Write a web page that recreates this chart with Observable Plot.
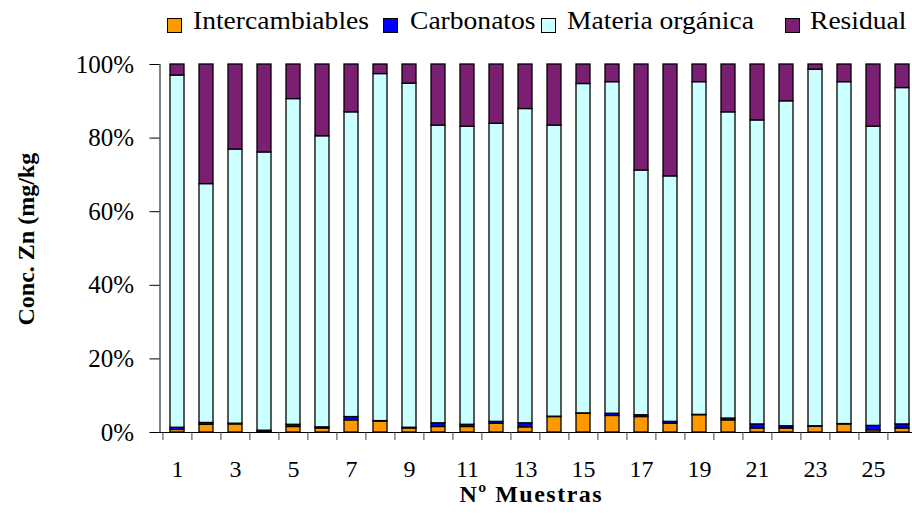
<!DOCTYPE html>
<html>
<head>
<meta charset="utf-8">
<script src="https://cdn.jsdelivr.net/npm/d3@7"></script>
<script src="https://cdn.jsdelivr.net/npm/@observablehq/plot@0.6"></script>
<style>
  body { margin: 0; background: white; }
  #legend { position: relative; width: 912px; height: 40px; font-family: "Liberation Serif", "Times New Roman", serif; font-size: 26px; color: black; }
  .sw { position: absolute; top: 18px; width: 13px; height: 13px; border: 1.5px solid black; }
  .lt { position: absolute; top: 6px; line-height: 30px; transform: scaleX(1.06); transform-origin: left center; white-space: nowrap; }
</style>
</head>
<body>
<div id="legend"></div>
<div id="chart"></div>
<script>
const samples = [1,2,3,4,5,6,7,8,9,10,11,12,13,14,15,16,17,18,19,20,21,22,23,24,25,26];
const tickLabels = [1,3,5,7,9,11,13,15,17,19,21,23,25];
const seriesNames = ["Intercambiables", "Carbonatos", "Materia orgánica", "Residual"];
const seriesColors = ["#FF9900", "#0000FF", "#CCFFFF", "#7A1F72"];
const intercambiables = [0.7,2.1,2.2,0.2,1.5,1.1,3.3,3.0,1.1,1.5,1.5,2.4,1.4,4.2,5.1,4.5,4.2,2.4,4.7,3.3,1.1,1.1,1.6,2.2,0.6,1.1];
const carbonatos      = [0.6,0.5,0.2,0.3,0.6,0.3,0.9,0.1,0.2,1.0,0.6,0.5,1.1,0.1,0.1,0.6,0.5,0.5,0.1,0.5,1.1,0.6,0.1,0.1,1.2,1.1];
const materiaOrganica = [95.7,64.9,74.5,75.6,88.5,79.1,82.8,94.3,93.5,80.9,81.0,81.0,85.4,79.1,89.5,90.1,66.5,66.7,90.4,83.2,82.6,88.3,96.9,92.9,81.3,91.4];
const residual        = [3.0,32.5,23.1,23.9,9.4,19.5,13.0,2.6,5.2,16.6,16.9,16.1,12.1,16.6,5.3,4.8,28.8,30.4,4.8,13.0,15.2,10.0,1.4,4.8,16.9,6.4];
const yTicks = [0,20,40,60,80,100];

const seriesValues = [intercambiables, carbonatos, materiaOrganica, residual];
const table = [];
seriesNames.forEach((s, k) => samples.forEach((m, i) => table.push({sample: m, serie: s, value: seriesValues[k][i]})));

// legend
const legendPos = [[167, 193], [383, 410], [541, 567], [785, 810]];
const legend = document.getElementById("legend");
seriesNames.forEach((s, k) => {
  const sw = document.createElement("div");
  sw.className = "sw"; sw.style.left = legendPos[k][0] + "px"; sw.style.background = seriesColors[k];
  const t = document.createElement("div");
  t.className = "lt"; t.style.left = legendPos[k][1] + "px"; t.textContent = s;
  legend.appendChild(sw); legend.appendChild(t);
});

const x0 = 159.5, x1 = 918.5;
const step = (x1 - x0) / samples.length;

const chart = Plot.plot({
  width: 912,
  height: 475,
  marginTop: 24,
  marginBottom: 83,
  marginLeft: 159.5,
  marginRight: 0,
  style: {fontFamily: "Liberation Serif, Times New Roman, serif", fontSize: "25px", color: "black", background: "white", overflow: "visible"},
  x: {type: "band", domain: samples, range: [x0, x1], paddingInner: 0.52, paddingOuter: 0.26, axis: null},
  y: {domain: [0, 100], axis: "left", ticks: yTicks, tickFormat: d => d + "%", tickSize: 10, tickPadding: 16, line: true, label: null},
  color: {domain: seriesNames, range: seriesColors},
  marks: [
    Plot.barY(table, {x: "sample", y: "value", fill: "serie", stroke: "black", strokeWidth: 1.3, order: seriesNames}),
    Plot.ruleY([0], {stroke: "black", strokeWidth: 1.2}),
    Plot.axisX({ticks: samples, tickSize: 8, tickFormat: () => "", dx: -step / 2, stroke: "#444", label: null}),
    Plot.axisX({ticks: tickLabels, tickSize: 0, tickPadding: 27, fontSize: 24, label: null}),
    Plot.text(["Nº Muestras"], {frameAnchor: "bottom", dy: 62, dx: -5, fontWeight: "bold", fontSize: 24, lineAnchor: "middle"}),
    Plot.text(["Conc. Zn (mg/kg"], {frameAnchor: "left", dx: -133.5, dy: 77, rotate: -90, fontWeight: "bold", fontSize: 24, lineAnchor: "middle"})
  ]
});
d3.select(chart).selectAll("text").filter(function() { return this.textContent === "Nº Muestras"; }).attr("letter-spacing", "1.5px");
document.getElementById("chart").appendChild(chart);
</script>
</body>
</html>
